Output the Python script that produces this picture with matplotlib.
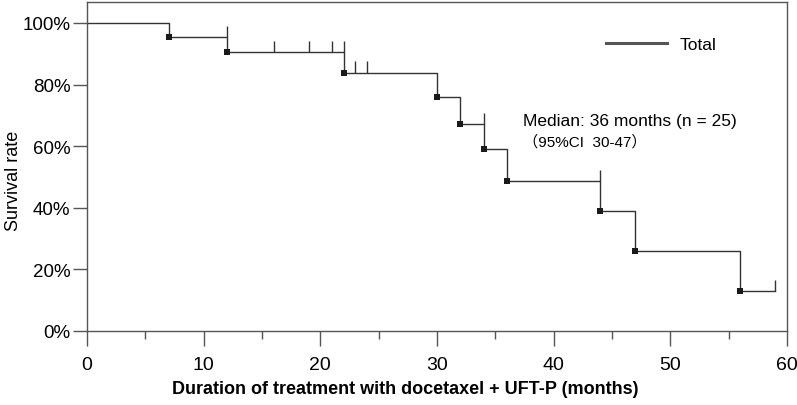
# Kaplan-Meier style curve: duration of treatment with docetaxel + UFT-P
import numpy as np
import matplotlib
matplotlib.use("Agg")
import matplotlib.pyplot as plt
from matplotlib.lines import Line2D

plt.rcParams['font.family'] = ['Liberation Sans', 'Noto Sans CJK JP', 'DejaVu Sans']

# data
event_times = [7, 12, 22, 30, 32, 34, 36, 44, 47, 56]
survival = [100, 95.5, 90.5, 83.9, 76.1, 67.3, 59.1, 48.7, 39.1, 26.1, 12.9]  # level before first event, then after each event
censor_times = [12, 16, 19, 21, 22, 23, 24, 34, 44, 59]
last_time = 59
x_ticks = [0, 10, 20, 30, 40, 50, 60]
y_ticks = [0, 20, 40, 60, 80, 100]

fig = plt.figure(figsize=(7.97, 4.06), dpi=100)
ax = fig.add_axes([0.1092, 0.1823, 0.8783, 0.8103])

line_col = '#333333'
# step curve
xs = [0] + event_times + [last_time]
ys = survival + [survival[-1]]
ax.step(xs, ys, where='post', color=line_col, lw=1.0)

# event markers (small squares at the foot of each drop)
ax.plot(event_times, survival[1:], 's', color='#1a1a1a', ms=4, mew=0)

# censor ticks, drawn upward from the level just before the time
idx = np.searchsorted(event_times, censor_times, side='left')
levels = np.array(survival)[idx]
ax.vlines(censor_times, levels, levels + 3.6, color=line_col, lw=1.0)

ax.set_xlim(0, 60)
ax.set_ylim(0, 106.8)
ax.set_xticks(x_ticks)
ax.set_xticks([5, 15, 25, 35, 45, 55], minor=True)
ax.set_yticks(y_ticks)
ax.set_yticklabels([f"{v}%" for v in y_ticks], fontsize=13.5)
ax.set_xticklabels([str(v) for v in x_ticks], fontsize=14)

for s in ax.spines.values():
    s.set_color('#555555')
    s.set_linewidth(1.0)
ax.tick_params(axis='y', length=10, width=1, color='#555555', pad=2)
ax.tick_params(axis='x', which='major', length=11, width=1, color='#555555', pad=7)
ax.tick_params(axis='x', which='minor', length=5.5, width=1, color='#555555')

ax.set_ylabel("Survival rate", fontsize=13)
ax.yaxis.set_label_coords(-0.093, 0.46)
ax.set_xlabel("Duration of treatment with docetaxel + UFT-P (months)", fontsize=13,
              fontweight='bold')
ax.xaxis.set_label_coords(0.454, -0.15)

ax.text(37.4, 68.4, "Median: 36 months (n = 25)", fontsize=12.5, va='center', ha='left')
ax.text(37.4, 61.5, "（95%CI  30-47）", fontsize=11, va='center', ha='left')

handle = Line2D([], [], color='#555555', lw=2.2)
ax.legend([handle], ["Total"], loc='center left', bbox_to_anchor=(0.741, 0.872),
          frameon=False, fontsize=12.5, handlelength=3.5, handletextpad=0.75,
          borderaxespad=0, borderpad=0)

fig.savefig("out.png", dpi=100)
